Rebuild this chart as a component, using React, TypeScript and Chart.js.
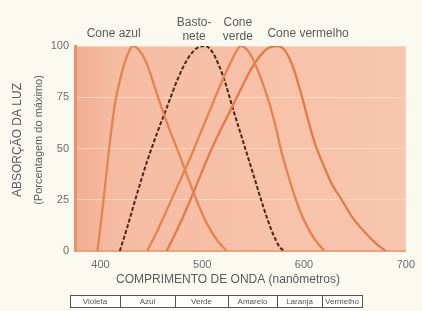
import React, { useEffect, useRef } from "react";
import { Chart, registerables } from "chart.js";

Chart.register(...registerables);

const wavelengthTicks = [400, 500, 600, 700];
const absorbTicks = [0, 25, 50, 75, 100];

const blueNm = [397, 401, 405, 409, 414, 420, 426, 432, 438, 445, 452, 460, 468, 476, 485, 495, 505, 515, 524];
const blueAbs = [0, 16, 34, 52, 71, 85, 95, 100, 98, 92, 82, 70, 59, 49, 37, 24, 13, 5, 0];

const rodNm = [419, 426, 436, 446, 456, 466, 476, 486, 495, 503, 510, 516, 522, 531, 541, 551, 561, 569, 576, 581];
const rodAbs = [0, 11, 28, 44, 58, 71, 84, 94, 99, 100, 97, 91, 83, 68, 52, 36, 20, 9, 2, 0];

const greenNm = [446, 457, 467, 477, 487, 497, 507, 517, 528, 538, 546, 553, 560, 566, 572, 578, 585, 592, 600, 610, 620];
const greenAbs = [0, 11, 22, 33, 44, 56, 68, 80, 92, 100, 97, 90, 81, 72, 61, 48, 36, 25, 15, 6, 0];

const redNm = [465, 475, 485, 495, 505, 515, 525, 535, 545, 555, 565, 574, 581, 589, 597, 604, 611, 619, 628, 637, 648, 660, 670, 680];
const redAbs = [0, 10, 21, 33, 45, 56, 66, 76, 86, 94, 99, 100, 98, 90, 77, 64, 52, 42, 32, 25, 16, 9, 4, 0];

const curveLabels = [["Cone azul"], ["Basto-", "nete"], ["Cone", "verde"], ["Cone vermelho"]];
const curveLabelNm = [413, 492, 535, 604];

const colorNames = ["Violeta", "Azul", "Verde", "Amarelo", "Laranja", "Vermelho"];

const yTitle = ["ABSORÇÃO DA LUZ", "(Porcentagem do máximo)"];
const xTitle = "COMPRIMENTO DE ONDA (nanômetros)";

const FONT = '"Liberation Sans", Arial, sans-serif';

const pts = (xs: number[], ys: number[]) => xs.map((x, i) => ({ x, y: ys[i] }));

const decor = {
  id: "decor",
  beforeDraw(chart: any) {
    const { ctx, chartArea: a } = chart;
    ctx.save();
    ctx.fillStyle = "#fbfaf1";
    ctx.fillRect(0, 0, chart.width, chart.height);
    const g = ctx.createLinearGradient(a.left, 0, a.right, 0);
    g.addColorStop(0, "#f2ae93");
    g.addColorStop(0.12, "#f5bca2");
    g.addColorStop(1, "#f8c7ae");
    ctx.fillStyle = g;
    ctx.fillRect(a.left, a.top, a.right - a.left, a.bottom - a.top);
    ctx.restore();
  },
  afterDraw(chart: any) {
    const { ctx } = chart;
    const xs = chart.scales.x;
    ctx.save();
    ctx.fillStyle = "#5a5a5a";
    ctx.textAlign = "center";
    ctx.textBaseline = "middle";
    ctx.font = `12px ${FONT}`;
    curveLabels.forEach((lines, i) => {
      const cx = xs.getPixelForValue(curveLabelNm[i]);
      if (lines.length === 1) {
        ctx.fillText(lines[0], cx, 34);
      } else {
        ctx.fillText(lines[0], cx, 23);
        ctx.fillText(lines[1], cx, 37);
      }
    });
    // y title
    ctx.save();
    ctx.translate(18, 140);
    ctx.rotate(-Math.PI / 2);
    ctx.font = `12px ${FONT}`;
    ctx.fillText(yTitle[0], 0, 0);
    ctx.font = `11px ${FONT}`;
    ctx.fillText(yTitle[1], 0, 21);
    ctx.restore();
    // x title
    ctx.font = `12px ${FONT}`;
    ctx.fillText(xTitle, 228, 280);
    // colour band
    const edges = [70, 120, 175, 228, 277, 322, 362];
    const top = 295, h = 12;
    ctx.strokeStyle = "#555";
    ctx.lineWidth = 1;
    ctx.fillStyle = "#ffffff";
    ctx.fillRect(edges[0], top, edges[6] - edges[0], h);
    ctx.strokeRect(edges[0] + 0.5, top + 0.5, edges[6] - edges[0], h);
    ctx.font = `8px ${FONT}`;
    ctx.fillStyle = "#555";
    for (let i = 0; i < colorNames.length; i++) {
      if (i > 0) {
        ctx.beginPath();
        ctx.moveTo(edges[i] + 0.5, top);
        ctx.lineTo(edges[i] + 0.5, top + h);
        ctx.stroke();
      }
      ctx.fillText(colorNames[i], (edges[i] + edges[i + 1]) / 2, top + h / 2 + 1);
    }
    ctx.restore();
  },
};

export default function App() {
  const ref = useRef<HTMLCanvasElement>(null);
  useEffect(() => {
    if (!ref.current) return;
    const line = (data: any, color: string, width: number, dash: number[] = []) => ({
      data,
      borderColor: color,
      borderWidth: width,
      borderDash: dash,
      pointRadius: 0,
      fill: false,
      tension: 0.4,
      cubicInterpolationMode: "monotone" as const,
    });
    const chart = new Chart(ref.current, {
      type: "line",
      data: {
        datasets: [
          line(pts(blueNm, blueAbs), "#e5844f", 2.3),
          line(pts(greenNm, greenAbs), "#e5844f", 2.3),
          line(pts(redNm, redAbs), "#e07c48", 2.3),
          line(pts(rodNm, rodAbs), "#4a2818", 2, [4, 2]),
        ],
      },
      options: {
        animation: false,
        responsive: false,
        events: [],
        layout: { padding: { top: 46, right: 10, left: 0, bottom: 0 } },
        plugins: { legend: { display: false }, tooltip: { enabled: false } },
        scales: {
          x: {
            type: "linear",
            min: 375,
            max: 700,
            afterBuildTicks: (s: any) => {
              s.ticks = wavelengthTicks.map((v) => ({ value: v }));
            },
            afterFit: (s: any) => {
              s.height = 60;
            },
            grid: { display: false, drawTicks: false },
            border: { color: "#eda27c", width: 2 },
            ticks: { color: "#6a6a6a", padding: 7, font: { size: 11, family: FONT } },
          },
          y: {
            min: 0,
            max: 100,
            afterBuildTicks: (s: any) => {
              s.ticks = absorbTicks.map((v) => ({ value: v }));
            },
            afterFit: (s: any) => {
              s.width = 75;
            },
            grid: { color: "rgba(255,225,205,0.7)", drawTicks: false },
            border: { color: "#e8946a", width: 3 },
            ticks: { color: "#6a6a6a", padding: 6, font: { size: 11, family: FONT } },
          },
        },
      },
      plugins: [decor],
    });
    return () => chart.destroy();
  }, []);
  return (
    <div style={{ position: "fixed", left: 0, top: 0, width: 422, height: 311 }}>
      <canvas ref={ref} width={422} height={311} style={{ display: "block" }} />
    </div>
  );
}
